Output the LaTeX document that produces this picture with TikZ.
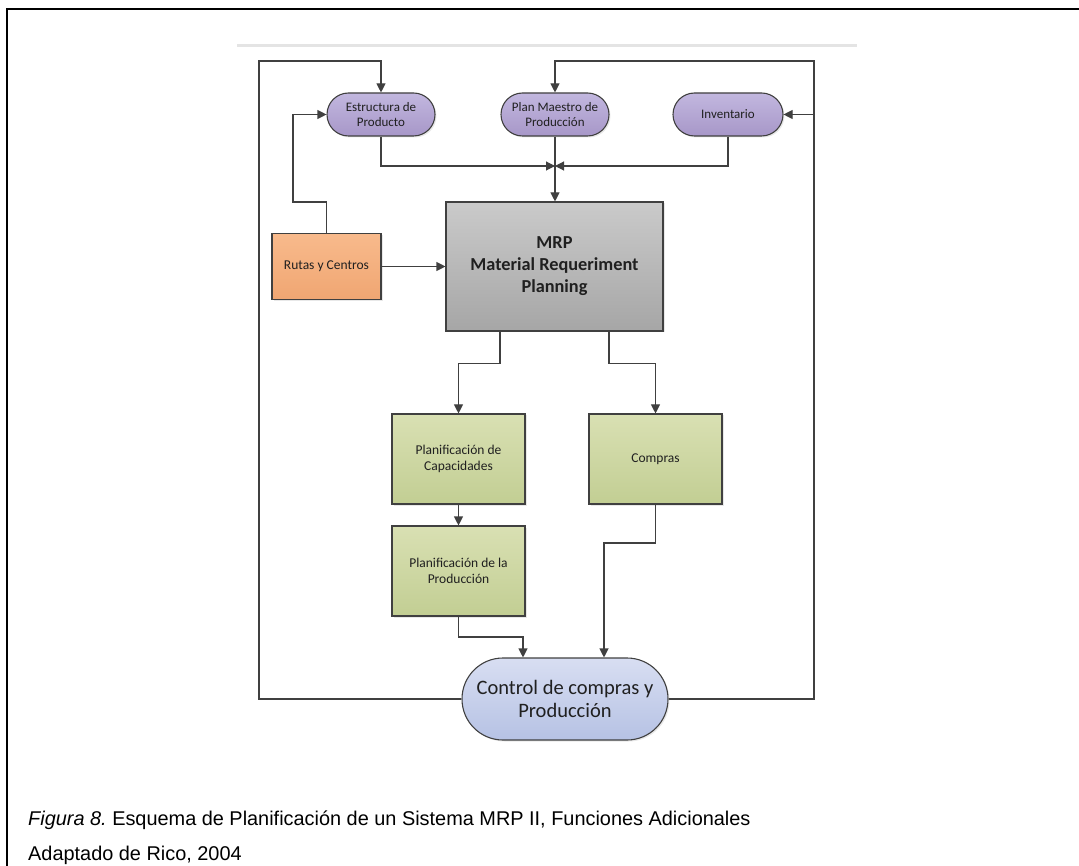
\documentclass[tikz,border=0pt]{standalone}
\usepackage{fontspec}
\setmainfont{Carlito}
\newfontfamily\capfont{Liberation Sans}
\usetikzlibrary{arrows.meta,calc,shadows}
\frenchspacing

\definecolor{lineC}{HTML}{404040}
\definecolor{txtC}{HTML}{202020}
\definecolor{purpleT}{HTML}{C2B7DF}
\definecolor{purpleB}{HTML}{A797C8}
\definecolor{greenT}{HTML}{D9E0B3}
\definecolor{greenB}{HTML}{C2CE93}

\tikzset{
  box/.style={draw=lineC, line width=1.1pt, align=center, text=txtC,
    inner sep=2pt, drop shadow={opacity=0.18, shadow xshift=1.5pt, shadow yshift=-1.5pt}},
  pill/.style={box, rounded corners=21.5pt, minimum width=108pt, minimum height=43pt,
    top color=purpleT, bottom color=purpleB, font=\fontsize{13}{15.5}\selectfont},
  greenbox/.style={box, minimum width=133pt, minimum height=90pt,
    top color=greenT, bottom color=greenB, font=\fontsize{13.5}{16}\selectfont},
  conn/.style={draw=lineC, line width=1.1pt},
  arr/.style={conn, -{Triangle[length=9pt,width=9pt]}},
  captext/.style={anchor=base west, inner sep=0pt, font=\capfont\fontsize{19.9}{23}\selectfont},
}

\begin{document}
\begin{tikzpicture}[x=1pt, y=-1pt]
  \useasboundingbox (0,0) rectangle (1079,866);

  % frame of the figure
  \draw[line width=2pt, black] (7,866) -- (7,9) -- (1079,9);
  % thin grey rule above the chart
  \draw[line width=3pt, color={rgb,255:red,228;green,228;blue,228}] (237,46) -- (857,46);

  % input pills
  \node[pill] (est) at (381,114.5) {Estructura de\\Producto};
  \node[pill] (pms) at (555,114.5) {Plan Maestro de\\Producción};
  \node[pill, minimum width=110pt] (inv) at (728,114.5) {Inventario};

  % central MRP block
  \node[box, minimum width=217pt, minimum height=129pt,
        top color={rgb,255:red,202;green,202;blue,202},
        bottom color={rgb,255:red,166;green,166;blue,166},
        font=\fontsize{18.3}{22}\selectfont\bfseries] (mrp) at (554.5,266.5)
        {MRP\\Material Requeriment\\Planning};

  \node[box, minimum width=109pt, minimum height=66pt,
        top color={rgb,255:red,248;green,186;blue,140},
        bottom color={rgb,255:red,240;green,166;blue,114},
        font=\fontsize{13.5}{16}\selectfont] (rut) at (326.5,266.5) {Rutas y Centros};

  % planning blocks
  \node[greenbox] (cap) at (458.5,459) {Planificación de\\Capacidades};
  \node[greenbox] (com) at (655.5,459) {Compras};
  \node[greenbox] (prod) at (458.5,571) {Planificación de la\\Producción};

  % control pill
  \node[box, rounded corners=41pt, minimum width=206pt, minimum height=82pt,
        top color={rgb,255:red,216;green,222;blue,242},
        bottom color={rgb,255:red,182;green,194;blue,228},
        font=\fontsize{20.5}{23}\selectfont] (ctl) at (565,699)
        {Control de compras y\\Producción};

  % junction points of the routing
  \coordinate (jn) at (555,166);
  \coordinate (k1) at (293,202);
  \coordinate (m1) at ($(mrp.south west)!0.25!(mrp.south east)$);
  \coordinate (m2) at ($(mrp.south west)!0.75!(mrp.south east)$);
  \coordinate (c1) at (523,637);
  \coordinate (c2) at (604,543);
  \coordinate (f1) at (259,61);
  \coordinate (f2) at (814,61);
  \coordinate (f3) at (814,114.5);

  % inputs into MRP
  \draw[arr] (est.south) |- (jn);
  \draw[arr] (inv.south) |- (jn);
  \draw[arr] (pms.south) -- (pms.south |- mrp.north);
  \draw[arr] (rut.east) -- (rut.east -| mrp.west);
  \draw[arr] (rut.north) |- (k1) |- (est.west);

  % MRP outputs
  \draw[arr] (m1) -- ++(0,32) -| (cap.north);
  \draw[arr] (m2) -- ++(0,32) -| (com.north);
  \draw[arr] (cap.south) -- (prod.north);
  \draw[arr] (prod.south) |- (c1) -- (c1 |- ctl.north);
  \draw[arr] (com.south) |- (c2) -- (c2 |- ctl.north);

  % feedback loops
  \draw[arr] (ctl.west) -| (f1) -| (est.north);
  \draw[arr] (ctl.east) -| (f2) -| (pms.north);
  \draw[arr] (f3) -- (inv.east);

  % caption
  \node[captext] (cap1) at (28,825)
    {{\itshape Figura 8.}\ Esquema de Planificación de un Sistema MRP II, Funciones Adicionales};
  \node[captext] (cap2) at (28,860) {Adaptado de Rico, 2004};
\end{tikzpicture}
\end{document}
